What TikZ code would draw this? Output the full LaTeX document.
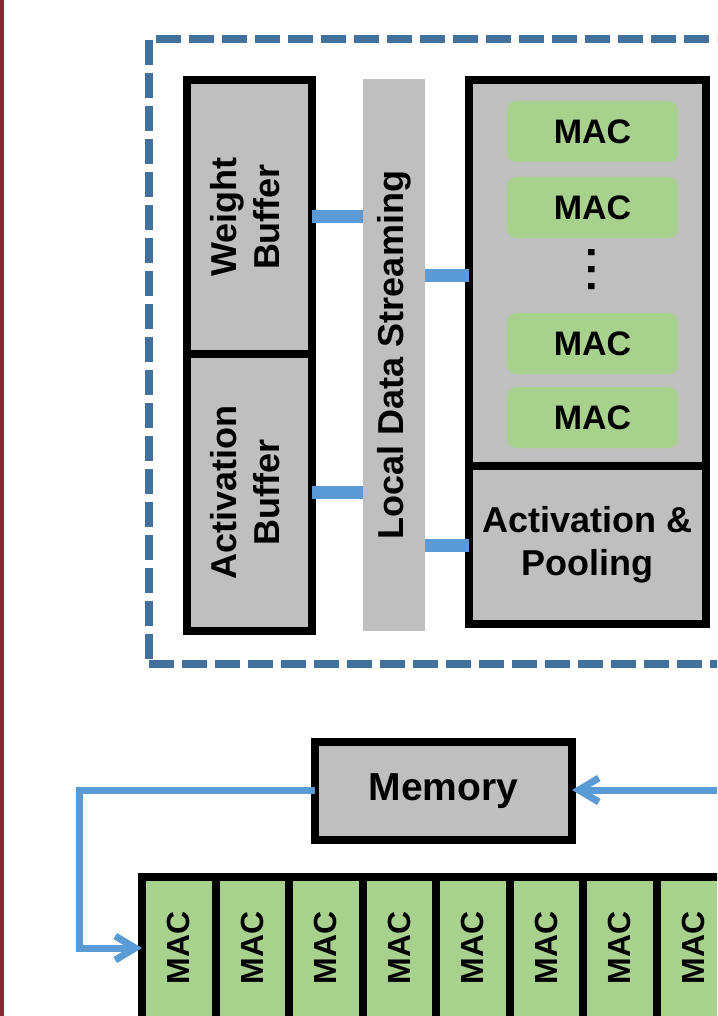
\documentclass[tikz,border=0pt]{standalone}
\usepackage{fontspec}
\setmainfont{Liberation Sans}
\usetikzlibrary{arrows.meta}
\definecolor{boxgray}{HTML}{BFBFBF}
\definecolor{macgreen}{HTML}{A9D18E}
\definecolor{linkblue}{HTML}{5B9BD5}
\definecolor{dashblue}{HTML}{41719C}
\definecolor{edgered}{HTML}{8A2432}
\begin{document}
\begin{tikzpicture}[x=1pt,y=-1pt,
  box/.style={draw=black, line width=8pt, fill=boxgray, inner sep=0pt, outer sep=0pt,
    align=center, font=\bfseries\fontsize{36}{43}\selectfont},
  bar/.style={fill=boxgray, draw=none, inner sep=0pt, outer sep=0pt,
    font=\bfseries\fontsize{36}{43}\selectfont},
  macunit/.style={fill=macgreen, draw=none, rounded corners=9pt, inner sep=0pt, outer sep=0pt,
    minimum width=171pt, minimum height=61pt, font=\bfseries\fontsize{34}{40}\selectfont},
  cell/.style={draw=black, line width=8pt, fill=macgreen, inner sep=0pt, outer sep=0pt,
    minimum width=73.5pt, minimum height=163pt},
  celltext/.style={rotate=90, inner sep=0pt, font=\bfseries\fontsize{32}{38}\selectfont},
  stub/.style={draw=linkblue, line width=13pt},
  link/.style={draw=linkblue, line width=7pt,
    -{Straight Barb[length=20pt,width=24pt]}},
  dashbox/.style={draw=dashblue, line width=8pt, dash pattern=on 25pt off 8pt, inner sep=0pt}
]
\useasboundingbox (0,0) rectangle (717,1016);
\clip (0,0) rectangle (717,1016);
\fill[white] (0,0) rectangle (717,1016);
\fill[edgered] (0,0) rectangle (3.5,1016);

% processing element frame
\node[dashbox, minimum width=611pt, minimum height=625pt] (pe) at (454.5,351.5) {};

% buffers
\node[box, minimum width=125pt, minimum height=274pt] (wb) at (249.5,217)
  {\rotatebox{90}{\begin{tabular}{@{}c@{}}Weight\\Buffer\end{tabular}}};
\node[box, minimum width=125pt, minimum height=277pt] (ab) at (249.5,492.5)
  {\rotatebox{90}{\begin{tabular}{@{}c@{}}Activation\\Buffer\end{tabular}}};

% local data streaming bar
\node[bar, minimum width=62pt, minimum height=552pt] (lds) at (394,355)
  {\rotatebox{90}{Local Data Streaming}};

% MAC array and activation/pooling
\node[box, minimum width=237pt, minimum height=386pt] (macarr) at (587.5,273) {};
\node[box, minimum width=237pt, minimum height=158pt] (pool) at (587.5,545)
  {\raisebox{-4pt}{\begin{tabular}{@{}c@{}}Activation \&\\Pooling\end{tabular}}};
\node[macunit] (u1) at (592.5,131.5) {MAC};
\node[macunit] (u2) at (592.5,207.5) {MAC};
\node[macunit] (u3) at (592.5,343.5) {MAC};
\node[macunit] (u4) at (592.5,417.5) {MAC};
\node[inner sep=0pt, rotate=-90, font=\bfseries\fontsize{44}{50}\selectfont] (dots) at (592,270)
  {.\kern4.8pt.\kern4.8pt.};

% stubs
\draw[stub] (wb.east) -- (wb.east -| lds.west);
\draw[stub] (ab.east) -- (ab.east -| lds.west);
\draw[stub] (lds.east |- 0,275.5) -- (macarr.west |- 0,275.5);
\draw[stub] (lds.east |- pool.west) -- (pool.west);

% memory
\node[box, minimum width=257pt, minimum height=98pt, font=\bfseries\fontsize{39}{45}\selectfont] (mem) at (443.5,791) {Memory};

% MAC row
\foreach \i in {1,...,8} {
  \node[cell] (c\i) at ({142+73.5*(\i-0.5)},958.5) {};
  \node[celltext] (t\i) at ({142+73.5*(\i-0.5)},948) {MAC};
}

% connectors
\coordinate (rin) at (740,790);
\coordinate (lc) at (79,790);
\draw[link] (rin) -- (mem.east |- rin);
\draw[link] (mem.west |- lc) -- (lc) |- (t1 -| c1.west);
\end{tikzpicture}
\end{document}
